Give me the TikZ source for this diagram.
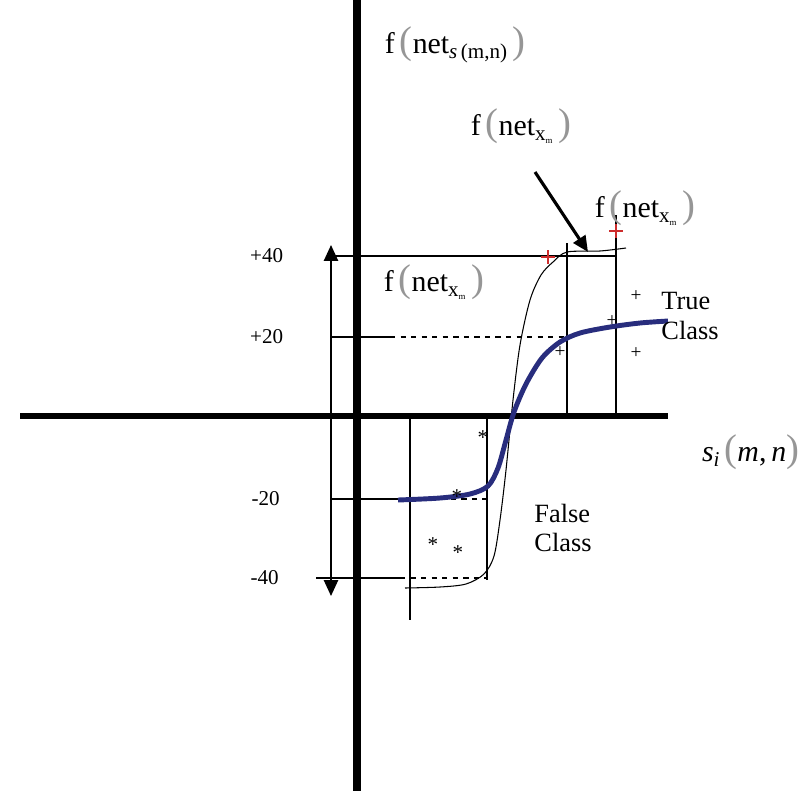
\documentclass[tikz,border=0pt]{standalone}
\usepackage{fontspec}
\setmainfont{Liberation Serif}
\usetikzlibrary{arrows.meta, positioning}
\definecolor{curveblue}{RGB}{40,45,125}
\definecolor{markred}{RGB}{205,45,45}
\definecolor{parengray}{RGB}{150,150,150}

\newcommand{\bigparen}[1]{{\color{parengray}\fontsize{22}{22}\selectfont #1}}
\newcommand{\fnet}[1]{f\,\bigparen{(}net\raisebox{-0.35ex}{\fontsize{12}{12}\selectfont #1}\,\bigparen{)}}

\begin{document}
\begin{tikzpicture}[
    x=0.02cm, y=-0.02cm,
    axis/.style={line width=4.2pt},
    guide/.style={line width=1.5pt},
    thinguide/.style={line width=0.7pt},
    levelmark/.style={font=\fontsize{12}{14}\selectfont, inner sep=1pt},
    fnlabel/.style={font=\fontsize{17}{19}\selectfont, inner sep=1pt},
    classlabel/.style={font=\fontsize{15}{17}\selectfont, align=left, inner sep=1pt},
    plusmark/.style={font=\fontsize{11}{11}\selectfont, inner sep=0pt},
    starmark/.style={font=\fontsize{12}{12}\selectfont, inner sep=0pt},
    redmark/.style={markred, line width=1pt}
]
\useasboundingbox (0,0) rectangle (810,791);

% Axes
\coordinate (ytop) at (357,0);
\coordinate (ybot) at (357,791);
\coordinate (xleft) at (20,416);
\coordinate (xright) at (668,416);
\draw[axis] (ytop) -- (ybot);
\draw[axis, line width=3.4pt] (xleft) -- (xright);

% Range arrow
\coordinate (rtop) at (331,245);
\coordinate (rbot) at (331,596);
\draw[line width=1.1pt, {Triangle[length=9pt, width=8pt]}-{Triangle[length=9pt, width=8pt]}] (rtop) -- (rbot);

% Levels
\coordinate (p40) at (331,256);
\coordinate (p20) at (331,337);
\coordinate (m20) at (331,499);
\coordinate (m40) at (316,578);
\node[levelmark, left=26pt of p40] (l40) {+40};
\node[levelmark, left=26pt of p20] (l20) {+20};
\node[levelmark, left=28pt of m20] (lm20) {-20};
\node[levelmark, left=20pt of m40] (lm40) {-40};

\draw[guide, line width=1.7pt] (p40) -- (567,256);
\draw[guide] (567,256) -- (616,256);
\draw[thinguide] (p20) -- (390,337);
\draw[thinguide, dashed] (390,337) -- (567,337);
\draw[thinguide] (m20) -- (398,499);
\draw[thinguide, dashed] (398,499) -- (487,499);
\draw[thinguide] (m40) -- (400,578);
\draw[thinguide, dashed] (400,578) -- (487,578);

% Class boundaries
\draw[guide] (567,243) -- (567,416);
\draw[guide] (616,215) -- (616,416);
\draw[guide] (410,418) -- (410,620);
\draw[guide] (487,418) -- (487,580);

% Steep response
\draw[line width=0.6pt] plot[smooth] coordinates {(405,588) (440,587) (466,584) (484,574) (494,556) (500,520) (506,470) (513,400) (520,345) (530,300) (541,275) (553,262) (567,252) (600,251) (626,248)};

% Soft response
\draw[curveblue, line width=2.8pt] plot[smooth] coordinates {(398,500) (440,498) (470,494) (488,486) (498,468) (506,440) (514,412) (526,384) (542,358) (560,342) (580,333) (610,327) (640,323) (668,321)};

% Samples
\draw[redmark] (541,257) -- (555,257) (548,250) -- (548,264);
\draw[redmark] (609,231) -- (623,231) (616,224) -- (616,238);
\node[plusmark] (t1) at (560,352) {+};
\node[plusmark] (t2) at (636,296) {+};
\node[plusmark] (t3) at (636,353) {+};
\node[plusmark] (t4) at (612,321) {+};
\node[starmark] (f1) at (483,438) {*};
\node[starmark] (f2) at (457,497) {*};
\node[starmark] (f3) at (433,545) {*};
\node[starmark] (f4) at (458,553) {*};

% Labels
\node[fnlabel] (fs) at (455,45) {\fnet{\textit{s}\,(m,n)}};
\node[fnlabel] (fx1) at (521,126) {\fnet{x\textsubscript{\tiny m}}};
\node[fnlabel] (fx2) at (645,208) {\fnet{x\textsubscript{\tiny m}}};
\node[fnlabel] (fx3) at (434,282) {\fnet{x\textsubscript{\tiny m}}};
\node[classlabel] (tc) at (690,316) {True\\Class};
\node[classlabel] (fc) at (563,528) {False\\Class};
\node[fnlabel, anchor=west] (si) at (700,452) {\textit{s}\raisebox{-0.4ex}{\fontsize{12}{12}\selectfont\textit{i}}\,\bigparen{(}\textit{m},\,\textit{n}\bigparen{)}};

% Pointer
\coordinate (ptail) at (535,172);
\coordinate (phead) at (588,252);
\draw[line width=1.8pt, -{Triangle[length=9pt, width=8pt]}] (ptail) -- (phead);

\end{tikzpicture}
\end{document}
